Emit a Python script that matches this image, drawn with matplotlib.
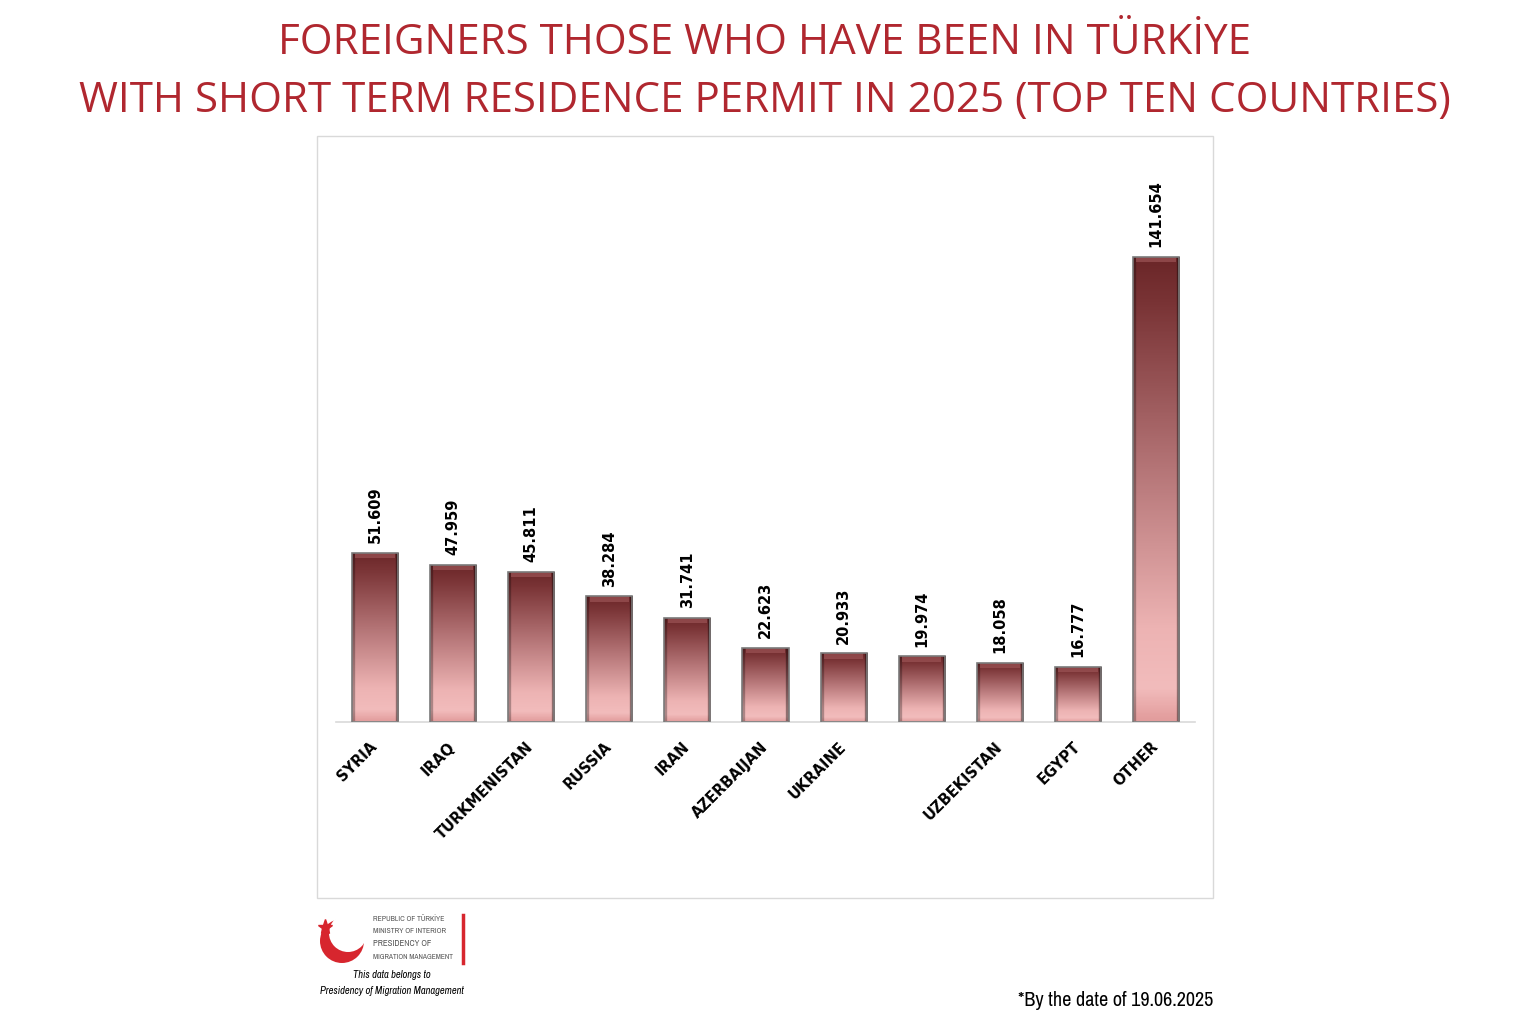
import numpy as np
import matplotlib.pyplot as plt
from matplotlib.colors import LinearSegmentedColormap, to_rgb
from matplotlib.patches import Rectangle, Circle
from matplotlib import font_manager

countries = ['SYRIA', 'IRAQ', 'TURKMENISTAN', 'RUSSIA', 'IRAN', 'AZERBAIJAN',
             'UKRAINE', '', 'UZBEKISTAN', 'EGYPT', 'OTHER']
values = [51.609, 47.959, 45.811, 38.284, 31.741, 22.623,
          20.933, 19.974, 18.058, 16.777, 141.654]
value_labels = ['51.609', '47.959', '45.811', '38.284', '31.741', '22.623',
                '20.933', '19.974', '18.058', '16.777', '141.654']

title1 = 'FOREIGNERS THOSE WHO HAVE BEEN IN TÜRKİYE'
title2 = 'WITH SHORT TERM RESIDENCE PERMIT IN 2025 (TOP TEN COUNTRIES)'
red = '#B0272F'

# pick a condensed family that has a regular weight (and italic if possible)
fonts = font_manager.fontManager.ttflist
regular = {f.name for f in fonts if f.weight in (400, 'normal', 'regular') and f.style == 'normal'}
italic = {f.name for f in fonts if f.style in ('italic', 'oblique')}
cands = sorted(n for n in regular if 'Narrow' in n or 'Condensed' in n)
narrow = 'DejaVu Sans'
narrow_it = 'DejaVu Sans'
if cands:
    narrow = cands[0]
    with_it = [n for n in cands if n in italic]
    narrow_it = with_it[0] if with_it else narrow

W, H = 1530, 1036
fig = plt.figure(figsize=(W / 100, H / 100), dpi=100)
fig.patch.set_facecolor('white')

# plot frame
fig.patches.append(Rectangle((317 / W, 1 - 898 / H), (1213 - 317) / W, (898 - 136) / H,
                             transform=fig.transFigure, fill=False,
                             edgecolor='#d9d9d9', linewidth=1))

ax = fig.add_axes([336 / W, 1 - 722 / H, 859 / W, 525 / H])
x = np.arange(len(values))
bars = ax.bar(x, values, width=0.59, color='none', edgecolor='#7a7a7a', linewidth=1.2, zorder=3)

# gradient fill, dark top -> light bottom, with darker side bevels
cmap = LinearSegmentedColormap.from_list('g', [
    (0.0, '#E29C9C'), (0.07, '#F2BCBC'), (0.2, '#EDB3B3'),
    (0.55, '#B47476'), (0.9, '#7A3436'), (1.0, '#6B2628')])
ny, nx = 200, 60
rows = cmap(np.linspace(0, 1, ny))[:, :3]
img = np.repeat(rows[:, None, :], nx, axis=1)
shade = np.ones(nx)
shade[:4] = 0.72
shade[-4:] = 0.6
img = img * shade[None, :, None]
top_light = np.array(to_rgb('#9C5456'))
for b in bars:
    bx, bw, bh = b.get_x(), b.get_width(), b.get_height()
    im = ax.imshow(img, extent=[bx, bx + bw, 0, bh], origin='lower', aspect='auto',
                   zorder=2, interpolation='bilinear')
    im.set_clip_path(b)
    # lighter top bevel
    ax.add_patch(Rectangle((bx + bw * 0.07, bh - 1.6), bw * 0.86, 1.6,
                           facecolor=top_light, edgecolor='none', alpha=0.7, zorder=2.5))

for xi, v, lab in zip(x, values, value_labels):
    ax.annotate(lab, (xi, v), xytext=(0, 7), textcoords='offset points',
                rotation=90, ha='center', va='bottom', fontsize=10.5,
                fontweight='bold', color='black')

ax.set_xlim(-0.5, len(values) - 0.5)
ax.set_ylim(0, 160)
ax.set_xticks(x)
ax.set_xticklabels(countries, rotation=45, ha='right', va='center',
                   rotation_mode='anchor', fontsize=10.5, fontweight='bold')
ax.tick_params(axis='x', length=0, pad=16)
ax.set_yticks([])
for s in ['top', 'left', 'right']:
    ax.spines[s].set_visible(False)
ax.spines['bottom'].set_color('#d9d9d9')
ax.spines['bottom'].set_linewidth(1.2)
ax.set_facecolor('none')

# titles
fig.text(0.5, 1 - 43 / H, title1, ha='center', va='center', fontsize=30.3,
         color=red, family='Open Sans')
fig.text(0.5, 1 - 101 / H, title2, ha='center', va='center', fontsize=30.3,
         color=red, family='Open Sans')

# overlay for logo and notes in pixel coordinates
ov = fig.add_axes([0, 0, 1, 1], zorder=-1)
ov.set_xlim(0, W)
ov.set_ylim(H, 0)
ov.axis('off')

ov.add_patch(Circle((342, 941), 22, facecolor='#D7262E', edgecolor='none'))
ov.add_patch(Circle((348, 933), 19, facecolor='white', edgecolor='none'))
ov.plot([325], [927], marker='*', markersize=11, color='#D7262E')
ov.plot([463, 463], [915, 963], color='#D7262E', linewidth=2.5)
ov.text(373, 919, 'REPUBLIC OF TÜRKİYE', fontsize=5.6, color='#555555', va='center', family=narrow)
ov.text(373, 931, 'MINISTRY OF INTERIOR', fontsize=5.6, color='#555555', va='center', family=narrow)
ov.text(373, 944, 'PRESIDENCY OF', fontsize=6.3, color='#555555', va='center',
        fontweight='bold', family=narrow)
ov.text(373, 957, 'MIGRATION MANAGEMENT', fontsize=5.4, color='#555555', va='center', family=narrow)
ov.text(392, 975, 'This data belongs to', fontsize=7.6, style='italic', ha='center', va='center',
        family=narrow_it)
ov.text(392, 991, 'Presidency of Migration Management', fontsize=7.6, style='italic',
        ha='center', va='center', family=narrow_it)

ov.text(1213, 1000, '*By the date of 19.06.2025', fontsize=14.5, ha='right', va='center',
        family=narrow)

fig.savefig('out.png', dpi=100)
